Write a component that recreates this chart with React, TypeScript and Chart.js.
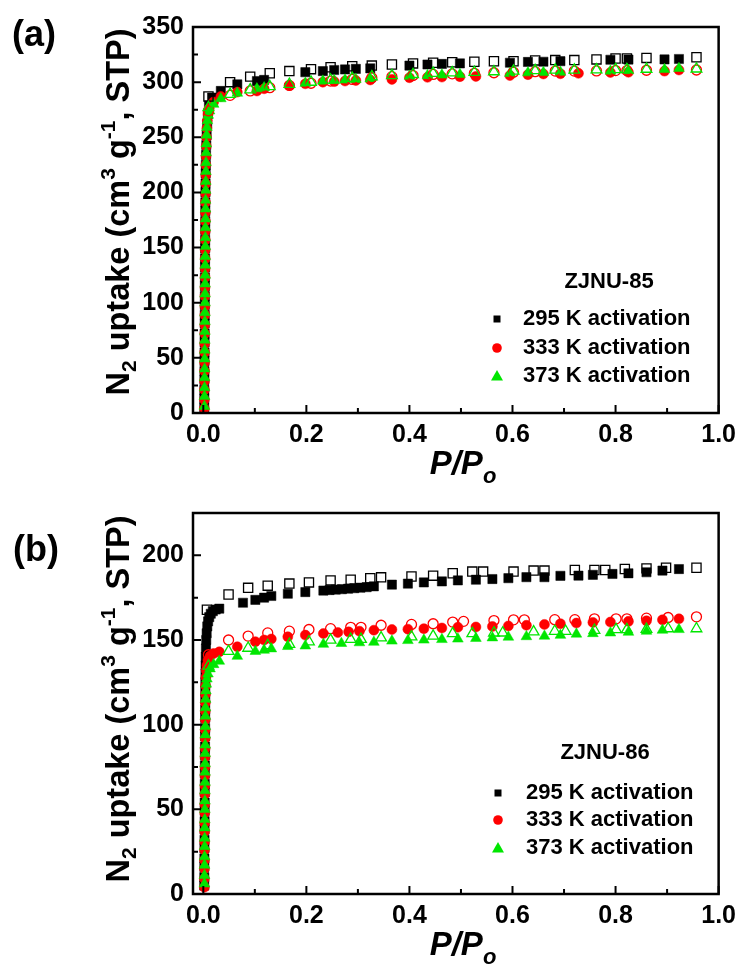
import { useEffect, useRef } from 'react';
import { Chart, registerables } from 'chart.js';
Chart.register(...registerables);

type Pt = [number, number];

// ---------- axis ticks ----------
const X_TICKS = [0, 0.2, 0.4, 0.6, 0.8, 1.0];
const X_MINOR = [0.1, 0.3, 0.5, 0.7, 0.9];
const A_Y_TICKS = [0, 50, 100, 150, 200, 250, 300, 350];
const A_Y_MINOR = [25, 75, 125, 175, 225, 275, 325];
const B_Y_TICKS = [0, 50, 100, 150, 200];
const B_Y_MINOR = [25, 75, 125, 175, 225];
const SERIES_LABELS = ['295 K activation', '333 K activation', '373 K activation'];

// ---------- panel (a) ZJNU-85 ----------
const A_295_ADS: Pt[] = [[0.0018,5],[0.0019,13],[0.0020,21],[0.0021,30],[0.0022,38],[0.0023,47],[0.0024,55],[0.0025,64],[0.0026,72],[0.0027,81],[0.0028,89],[0.0029,98],[0.0030,106],[0.0031,115],[0.0032,123],[0.0033,132],[0.0034,140],[0.0035,149],[0.0036,157],[0.0037,166],[0.0038,174],[0.0039,183],[0.0040,191],[0.0042,200],[0.0044,208],[0.0046,217],[0.0049,225],[0.0053,234],[0.0058,243],[0.0065,252],[0.0075,262],[0.0090,271],[0.0110,279],[0.017,286],[0.034,292],[0.066,298],[0.104,301],[0.118,302],[0.198,309],[0.232,310],[0.254,311],[0.275,311.5],[0.296,312],[0.324,312.5],[0.400,315],[0.435,316],[0.463,316.5],[0.498,317],[0.595,317.6],[0.630,318.3],[0.660,318.5],[0.693,319],[0.790,320.3],[0.825,320.5],[0.895,320.6],[0.923,321]];
const A_295_DES: Pt[] = [[0.010,287],[0.052,300],[0.091,305],[0.129,308],[0.167,310],[0.209,311.8],[0.247,313.5],[0.289,314.4],[0.327,315],[0.366,316],[0.407,317],[0.446,317.6],[0.483,318],[0.526,318.5],[0.564,319],[0.602,319],[0.644,319.7],[0.683,320],[0.720,320],[0.763,320.6],[0.800,321.5],[0.822,321.5],[0.860,322],[0.957,322.6]];
const A_333_ADS: Pt[] = [[0.0020,4],[0.0021,12],[0.0022,21],[0.0023,29],[0.0024,38],[0.0025,46],[0.0026,55],[0.0027,63],[0.0028,72],[0.0029,80],[0.0030,89],[0.0031,97],[0.0032,106],[0.0033,114],[0.0034,123],[0.0035,131],[0.0036,140],[0.0037,148],[0.0038,157],[0.0039,165],[0.0040,174],[0.0041,182],[0.0042,191],[0.0044,199],[0.0046,208],[0.0048,216],[0.0050,225],[0.0053,233],[0.0057,242],[0.0062,250],[0.0069,258],[0.0078,265],[0.0092,271],[0.0115,276],[0.020,282],[0.034,287],[0.066,291],[0.104,292],[0.118,294],[0.167,297],[0.198,298.5],[0.232,300],[0.254,300.5],[0.275,301],[0.296,301.5],[0.324,302],[0.366,302.5],[0.400,304],[0.435,304.4],[0.463,304.6],[0.498,305],[0.529,305.2],[0.595,306],[0.630,306.8],[0.660,307.4],[0.693,307.6],[0.728,308],[0.790,308.8],[0.825,309],[0.895,310],[0.923,311]];
const A_333_DES: Pt[] = [[0.010,274],[0.052,288],[0.091,292],[0.129,295],[0.167,297],[0.209,299],[0.247,301],[0.289,302.5],[0.327,304],[0.366,305],[0.407,306],[0.446,307],[0.483,307.5],[0.526,308],[0.564,308.5],[0.602,309],[0.644,309.5],[0.683,310],[0.720,310],[0.763,310.2],[0.800,310.5],[0.822,310.5],[0.860,310.8],[0.957,311]];
const A_373_ADS: Pt[] = [[0.0022,6],[0.0023,15],[0.0024,23],[0.0025,32],[0.0026,40],[0.0027,49],[0.0028,57],[0.0029,66],[0.0030,74],[0.0031,83],[0.0032,91],[0.0033,100],[0.0034,108],[0.0035,117],[0.0036,125],[0.0037,134],[0.0038,142],[0.0039,151],[0.0040,159],[0.0041,168],[0.0042,176],[0.0043,185],[0.0044,193],[0.0046,202],[0.0048,210],[0.0050,219],[0.0052,227],[0.0055,236],[0.0059,244],[0.0064,252],[0.0071,259],[0.0080,265],[0.0095,270],[0.0120,274],[0.020,280],[0.034,285],[0.066,290],[0.104,294],[0.118,295],[0.198,299],[0.232,301],[0.254,301.5],[0.275,302],[0.296,302.5],[0.324,303],[0.400,305.5],[0.435,306],[0.463,306.5],[0.498,307],[0.595,308],[0.630,308.5],[0.660,308.8],[0.693,309],[0.790,310],[0.825,310.5],[0.895,311.5],[0.923,312.5]];
const A_373_DES: Pt[] = [[0.010,277],[0.052,289],[0.091,293],[0.129,296],[0.167,298],[0.209,300],[0.247,302],[0.289,303.5],[0.327,305],[0.366,306],[0.407,307],[0.446,308],[0.483,308.5],[0.526,309],[0.564,309.5],[0.602,310],[0.644,310.5],[0.683,311],[0.720,311],[0.763,311.2],[0.800,311.5],[0.822,311.5],[0.860,311.8],[0.957,312]];

// ---------- panel (b) ZJNU-86 ----------
const B_295_ADS: Pt[] = [[0.0018,5],[0.0019,10],[0.0020,16],[0.0021,21],[0.0022,27],[0.0023,32],[0.0024,38],[0.0025,43],[0.0026,49],[0.0027,54],[0.0028,60],[0.0029,65],[0.0030,71],[0.0031,76],[0.0032,82],[0.0033,87],[0.0034,93],[0.0035,98],[0.0036,104],[0.0037,109],[0.0038,115],[0.0039,120],[0.0040,125],[0.0042,130],[0.0044,135],[0.0047,140],[0.0051,145],[0.0057,150],[0.0065,154],[0.0077,158],[0.0093,161],[0.0115,163.5],[0.0145,165.5],[0.0185,167],[0.024,168],[0.031,168.5],[0.077,172],[0.101,173.7],[0.118,175],[0.132,176],[0.164,177.3],[0.198,178.3],[0.233,179.2],[0.245,179.5],[0.257,179.8],[0.269,180],[0.281,180.3],[0.293,180.6],[0.305,180.9],[0.317,181.2],[0.331,181.7],[0.366,182.7],[0.397,183.3],[0.428,184],[0.463,184.6],[0.494,185.2],[0.529,185.6],[0.561,186],[0.592,186.5],[0.627,187.1],[0.662,187.1],[0.693,187.9],[0.728,188],[0.756,188.5],[0.794,189],[0.825,189.4],[0.860,190],[0.891,191],[0.923,191.9]];
const B_295_DES: Pt[] = [[0.007,167.9],[0.049,176.9],[0.087,180.8],[0.125,182.1],[0.167,183.3],[0.205,184],[0.247,185.2],[0.286,185.6],[0.324,186.5],[0.345,187],[0.404,187.5],[0.446,188],[0.484,189.4],[0.522,190.4],[0.543,190.4],[0.602,190.4],[0.641,191],[0.662,191],[0.721,191.3],[0.759,191.3],[0.780,191.3],[0.818,191.9],[0.860,192.3],[0.898,192.7],[0.957,192.7]];
const B_333_ADS: Pt[] = [[0.0020,4],[0.0021,9],[0.0022,15],[0.0023,20],[0.0024,26],[0.0025,31],[0.0026,37],[0.0027,42],[0.0028,48],[0.0029,53],[0.0030,59],[0.0031,64],[0.0032,70],[0.0033,75],[0.0034,81],[0.0035,86],[0.0036,92],[0.0037,97],[0.0038,103],[0.0039,108],[0.0040,113],[0.0042,118],[0.0045,123],[0.0050,128],[0.0058,132],[0.0070,135],[0.0090,138],[0.0130,140.5],[0.020,142],[0.031,143],[0.066,146],[0.101,149],[0.118,150],[0.132,150.6],[0.164,151.9],[0.198,152.9],[0.233,153.8],[0.261,154.4],[0.282,154.8],[0.303,155.2],[0.331,155.8],[0.366,156.2],[0.397,156.4],[0.428,156.7],[0.463,157.1],[0.494,157.5],[0.529,157.7],[0.561,158],[0.592,158.3],[0.627,158.7],[0.662,159.2],[0.693,159.6],[0.724,160],[0.756,160.4],[0.790,160.6],[0.825,161],[0.860,161.3],[0.891,161.9],[0.923,162.5]];
const B_333_DES: Pt[] = [[0.010,141.3],[0.049,150],[0.087,152.3],[0.125,154.2],[0.167,155.2],[0.205,156.2],[0.247,156.7],[0.286,157.5],[0.306,157.5],[0.345,158.7],[0.404,159.2],[0.446,159.6],[0.484,160.6],[0.505,161],[0.564,161.5],[0.602,161.9],[0.623,161.9],[0.682,162],[0.721,162],[0.759,162.5],[0.801,162.5],[0.822,162.5],[0.860,162.9],[0.902,163.3],[0.957,163.7]];
const B_373_ADS: Pt[] = [[0.0022,6],[0.0023,11],[0.0024,17],[0.0025,22],[0.0026,28],[0.0027,33],[0.0028,39],[0.0029,44],[0.0030,50],[0.0031,55],[0.0032,61],[0.0033,66],[0.0034,72],[0.0035,77],[0.0036,83],[0.0037,88],[0.0038,94],[0.0039,99],[0.0040,105],[0.0042,110],[0.0045,115],[0.0050,120],[0.0058,124],[0.0070,127],[0.0090,130],[0.0130,133],[0.020,135.5],[0.031,137.5],[0.066,140.4],[0.101,143.3],[0.118,144],[0.132,144.8],[0.164,146.2],[0.198,146.5],[0.233,147.5],[0.268,148],[0.303,148.4],[0.331,148.7],[0.366,149.4],[0.397,149.7],[0.428,150],[0.463,150.3],[0.494,150.6],[0.529,151],[0.561,151.3],[0.592,151.7],[0.627,152],[0.662,152.3],[0.693,152.8],[0.724,153.5],[0.756,153.8],[0.790,154.2],[0.825,154.6],[0.860,155.2],[0.891,155.8],[0.923,156.2]];
const B_373_DES: Pt[] = [[0.010,134.6],[0.049,143.3],[0.087,145.2],[0.125,146.7],[0.167,147.5],[0.205,149],[0.247,150],[0.286,150.4],[0.306,150.4],[0.345,151.3],[0.404,151.9],[0.446,152.3],[0.484,153.8],[0.522,153.8],[0.564,154.2],[0.581,154.2],[0.641,154.8],[0.682,155.2],[0.703,155.2],[0.759,155.8],[0.801,156.2],[0.822,156.2],[0.860,156.3],[0.902,156.7],[0.957,156.7]];

// ---------- styling ----------
const FONT = '"Liberation Sans", Arial, Helvetica, sans-serif';
const COLORS = ['#000000', '#ff0000', '#00e600'];
const SHAPES = ['rect', 'circle', 'triangle'];
const RADII = [6.5, 5.0, 6.2];
const W = 743;
const H = 489;

interface Panel {
  label: string;
  sample: string;
  yMax: number;
  yTicks: number[];
  yMinor: number[];
  area: { left: number; top: number; right: number; bottom: number };
  ads: Pt[][];
  des: Pt[][];
  yTitle: [number, number];
  xTitle: [number, number];
  legend: { titleX: number; titleY: number; markerX: number; textX: number; rows: number[] };
  labelPos: [number, number];
}

const PANEL_A: Panel = {
  label: '(a)', sample: 'ZJNU-85', yMax: 350, yTicks: A_Y_TICKS, yMinor: A_Y_MINOR,
  area: { left: 193, top: 27, right: 720.5, bottom: 413 },
  ads: [A_295_ADS, A_333_ADS, A_373_ADS], des: [A_295_DES, A_333_DES, A_373_DES],
  yTitle: [129, 212], xTitle: [463, 474],
  legend: { titleX: 609, titleY: 282, markerX: 497, textX: 523, rows: [319, 348, 376] },
  labelPos: [34, 36],
};
const PANEL_B: Panel = {
  label: '(b)', sample: 'ZJNU-86', yMax: 225, yTicks: B_Y_TICKS, yMinor: B_Y_MINOR,
  area: { left: 193, top: 17, right: 720.5, bottom: 405 },
  ads: [B_295_ADS, B_333_ADS, B_373_ADS], des: [B_295_DES, B_333_DES, B_373_DES],
  yTitle: [129, 210], xTitle: [463, 466],
  legend: { titleX: 605, titleY: 264, markerX: 498, textX: 526, rows: [304, 331, 359] },
  labelPos: [36, 62],
};

type Part = { t: string; size: number; dy: number; italic?: boolean };
function fontOf(p: Part) {
  return `${p.italic ? 'italic ' : ''}bold ${p.size}px ${FONT}`;
}
function drawRich(ctx: CanvasRenderingContext2D, parts: Part[], cx: number, baseY: number) {
  let total = 0;
  for (const p of parts) { ctx.font = fontOf(p); total += ctx.measureText(p.t).width; }
  let x = cx - total / 2;
  ctx.textAlign = 'left';
  ctx.textBaseline = 'alphabetic';
  for (const p of parts) {
    ctx.font = fontOf(p);
    ctx.fillText(p.t, x, baseY + p.dy);
    x += ctx.measureText(p.t).width;
  }
}

function drawMarker(ctx: CanvasRenderingContext2D, shape: string, x: number, y: number, color: string) {
  ctx.fillStyle = color;
  ctx.beginPath();
  if (shape === 'rect') ctx.rect(x - 3.5, y - 3.5, 7, 7);
  else if (shape === 'circle') ctx.arc(x, y, 4.8, 0, Math.PI * 2);
  else { ctx.moveTo(x, y - 6); ctx.lineTo(x + 6, y + 4.5); ctx.lineTo(x - 6, y + 4.5); ctx.closePath(); }
  ctx.fill();
}

function makeDeco(p: Panel) {
  return {
    id: 'deco' + p.label,
    afterDraw(chart: any) {
      const ctx: CanvasRenderingContext2D = chart.ctx;
      const a = chart.chartArea;
      const xs = chart.scales.x;
      const ys = chart.scales.y;
      ctx.save();
      ctx.strokeStyle = '#000';
      ctx.lineWidth = 2.5;
      ctx.strokeRect(a.left, a.top, a.right - a.left, a.bottom - a.top);
      ctx.lineWidth = 2;
      ctx.beginPath();
      for (const v of X_TICKS) { const px = xs.getPixelForValue(v); ctx.moveTo(px, a.bottom); ctx.lineTo(px, a.bottom - 8); }
      for (const v of X_MINOR) { const px = xs.getPixelForValue(v); ctx.moveTo(px, a.bottom); ctx.lineTo(px, a.bottom - 5); }
      for (const v of p.yTicks) { const py = ys.getPixelForValue(v); ctx.moveTo(a.left, py); ctx.lineTo(a.left + 8, py); }
      for (const v of p.yMinor) { const py = ys.getPixelForValue(v); ctx.moveTo(a.left, py); ctx.lineTo(a.left + 5, py); }
      ctx.stroke();

      ctx.fillStyle = '#000';
      // panel label
      ctx.font = `bold 36px ${FONT}`;
      ctx.textAlign = 'center';
      ctx.textBaseline = 'middle';
      ctx.fillText(p.label, p.labelPos[0], p.labelPos[1]);

      // x title
      drawRich(ctx, [
        { t: 'P/P', size: 33, dy: 0, italic: true },
        { t: 'o', size: 22, dy: 9, italic: true },
      ], p.xTitle[0], p.xTitle[1]);

      // y title (rotated)
      ctx.save();
      ctx.translate(p.yTitle[0], p.yTitle[1]);
      ctx.rotate(-Math.PI / 2);
      drawRich(ctx, [
        { t: 'N', size: 32.5, dy: 0 },
        { t: '2', size: 21, dy: 7 },
        { t: ' uptake (cm', size: 32.5, dy: 0 },
        { t: '3', size: 21, dy: -14 },
        { t: ' g', size: 32.5, dy: 0 },
        { t: '-1', size: 21, dy: -14 },
        { t: ', STP)', size: 32.5, dy: 0 },
      ], 0, 0);
      ctx.restore();

      // legend
      const L = p.legend;
      ctx.fillStyle = '#000';
      ctx.font = `bold 22px ${FONT}`;
      ctx.textAlign = 'center';
      ctx.textBaseline = 'middle';
      ctx.fillText(p.sample, L.titleX, L.titleY);
      ctx.textAlign = 'left';
      SERIES_LABELS.forEach((s, i) => {
        drawMarker(ctx, SHAPES[i], L.markerX, L.rows[i], COLORS[i]);
        ctx.fillStyle = '#000';
        ctx.fillText(s, L.textX, L.rows[i]);
      });
      ctx.restore();
    },
  };
}

function buildDatasets(p: Panel) {
  const sets: any[] = [];
  // desorption (open) on top, adsorption (filled) below; green over red over black
  [0, 1, 2].forEach((i) => {
    sets.push({
      label: SERIES_LABELS[i] + ' desorption',
      data: p.des[i].map(([x, y]) => ({ x, y })),
      pointStyle: SHAPES[i],
      pointRadius: RADII[i],
      pointBackgroundColor: 'rgba(255,255,255,0)',
      pointBorderColor: COLORS[i],
      pointBorderWidth: 1.3,
      showLine: false,
      order: 5 - i,
    });
  });
  [0, 1, 2].forEach((i) => {
    sets.push({
      label: SERIES_LABELS[i] + ' adsorption',
      data: p.ads[i].map(([x, y]) => ({ x, y })),
      pointStyle: SHAPES[i],
      pointRadius: RADII[i],
      pointBackgroundColor: COLORS[i],
      pointBorderColor: COLORS[i],
      pointBorderWidth: 0.5,
      showLine: false,
      order: 8 - i,
    });
  });
  return sets;
}

function PanelChart({ panel }: { panel: Panel }) {
  const ref = useRef<HTMLCanvasElement | null>(null);
  useEffect(() => {
    if (!ref.current) return;
    const p = panel;
    const tickFont = { family: FONT, size: 25, weight: 'bold' as const };
    const chart = new Chart(ref.current, {
      type: 'scatter',
      data: { datasets: buildDatasets(p) },
      options: {
        animation: false,
        responsive: false,
        events: [],
        layout: { padding: { top: p.area.top, right: W - p.area.right, bottom: 0, left: 0 } },
        plugins: { legend: { display: false }, tooltip: { enabled: false } },
        scales: {
          x: {
            type: 'linear', min: -0.02, max: 1.0,
            afterBuildTicks: (s: any) => { s.ticks = X_TICKS.map((v) => ({ value: v })); },
            afterFit: (s: any) => { s.height = H - p.area.bottom; },
            ticks: { font: tickFont, color: '#000', padding: 7, maxRotation: 0, autoSkip: false, callback: (v: any) => Number(v).toFixed(1) },
            grid: { display: false, drawTicks: false },
            border: { display: false },
          },
          y: {
            type: 'linear', min: 0, max: p.yMax,
            afterBuildTicks: (s: any) => { s.ticks = p.yTicks.map((v) => ({ value: v })); },
            afterFit: (s: any) => { s.width = p.area.left; },
            ticks: { font: tickFont, color: '#000', padding: 9, autoSkip: false, callback: (v: any) => String(v) },
            grid: { display: false, drawTicks: false },
            border: { display: false },
          },
        },
      },
      plugins: [makeDeco(p)],
    } as any);
    return () => chart.destroy();
  }, [panel]);
  return <canvas ref={ref} width={W} height={H} style={{ display: 'block', width: W, height: H }} />;
}

export default function App() {
  return (
    <div style={{ position: 'absolute', left: 0, top: 0, width: W, height: 2 * H, background: '#fff' }}>
      <PanelChart panel={PANEL_A} />
      <PanelChart panel={PANEL_B} />
    </div>
  );
}
